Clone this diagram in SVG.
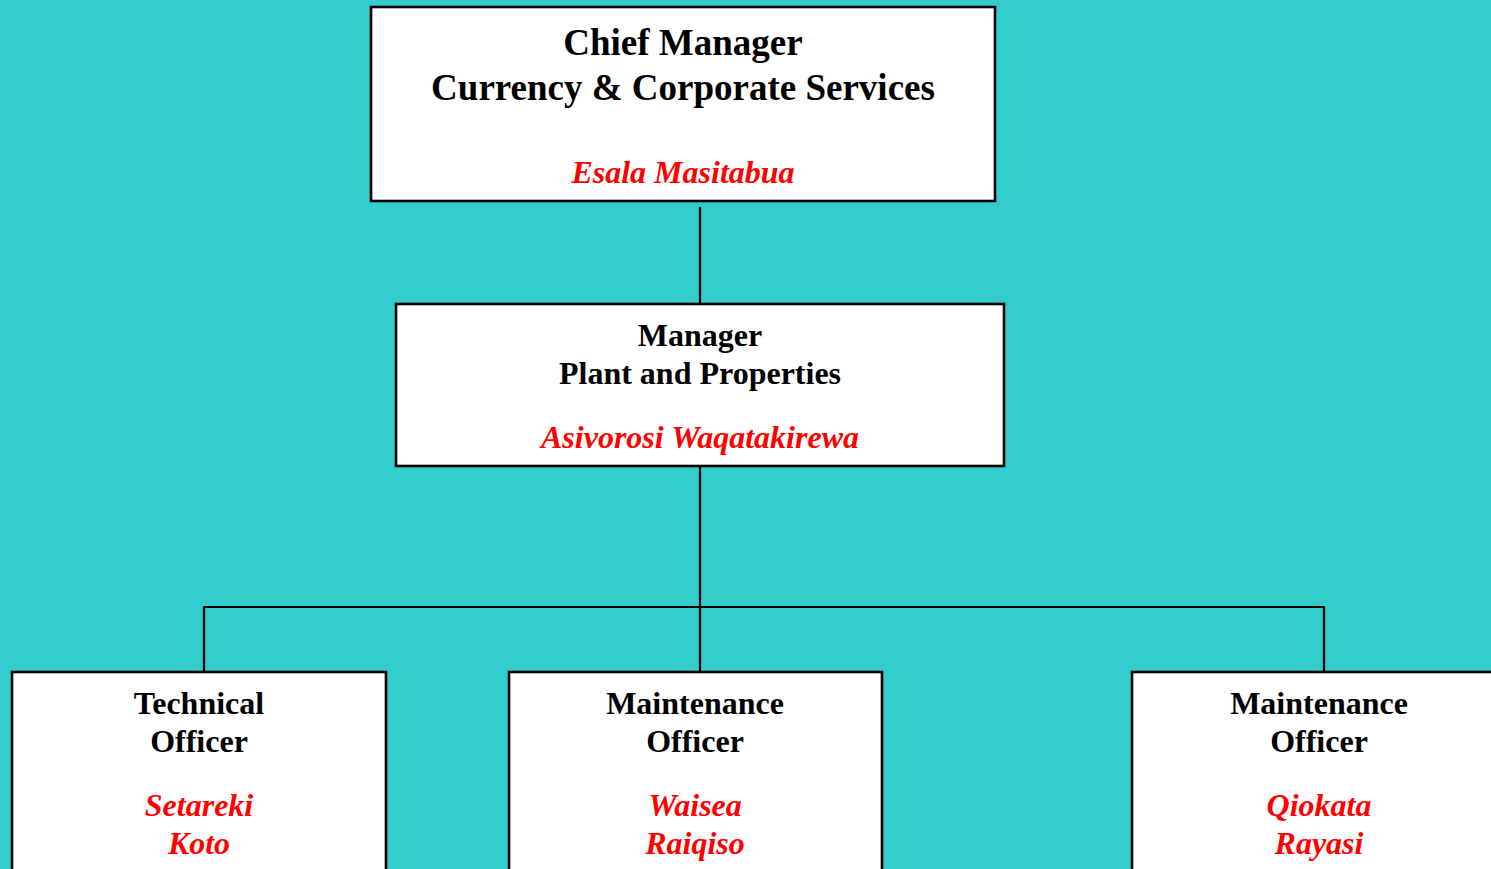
<svg xmlns="http://www.w3.org/2000/svg" width="1491" height="869" viewBox="0 0 1491 869">
<style>
.box{fill:#FFFFFF;stroke:#000000;stroke-width:2.6}
.t{font-family:"Liberation Serif","Times New Roman",serif;font-weight:bold;fill:#000000;text-anchor:middle}
.n{font-family:"Liberation Serif","Times New Roman",serif;font-weight:bold;font-style:italic;fill:#FF0000;text-anchor:middle;font-size:32px}
.c{stroke:#000000;stroke-width:2.2;fill:none}
</style>
<rect x="0" y="0" width="1491" height="869" fill="#33CCCC"/>
<g id="connectors">
<line class="c" x1="700" y1="207" x2="700" y2="304"/>
<line class="c" x1="700" y1="466" x2="700" y2="672"/>
<polyline class="c" points="204,672 204,607 1324,607 1324,672"/>
</g>
<g id="chief-manager">
<rect class="box" x="371" y="7" width="624" height="194"/>
<text class="t" x="683" y="55" font-size="37">Chief Manager</text>
<text class="t" x="683" y="100" font-size="37">Currency &amp; Corporate Services</text>
<text class="n" x="683" y="183">Esala Masitabua</text>
</g>
<g id="manager">
<rect class="box" x="396" y="304" width="608" height="162"/>
<text class="t" x="700" y="346" font-size="32">Manager</text>
<text class="t" x="700" y="384" font-size="32">Plant and Properties</text>
<text class="n" x="700" y="448">Asivorosi Waqatakirewa</text>
</g>
<g id="technical-officer">
<rect class="box" x="12" y="672" width="374" height="230"/>
<text class="t" x="199" y="714" font-size="32">Technical</text>
<text class="t" x="199" y="752" font-size="32">Officer</text>
<text class="n" x="199" y="816">Setareki</text>
<text class="n" x="199" y="854">Koto</text>
</g>
<g id="maintenance-officer-1">
<rect class="box" x="509" y="672" width="373" height="230"/>
<text class="t" x="695" y="714" font-size="32">Maintenance</text>
<text class="t" x="695" y="752" font-size="32">Officer</text>
<text class="n" x="695" y="816">Waisea</text>
<text class="n" x="695" y="854">Raiqiso</text>
</g>
<g id="maintenance-officer-2">
<rect class="box" x="1132" y="672" width="374" height="230"/>
<text class="t" x="1319" y="714" font-size="32">Maintenance</text>
<text class="t" x="1319" y="752" font-size="32">Officer</text>
<text class="n" x="1319" y="816">Qiokata</text>
<text class="n" x="1319" y="854">Rayasi</text>
</g>
</svg>
